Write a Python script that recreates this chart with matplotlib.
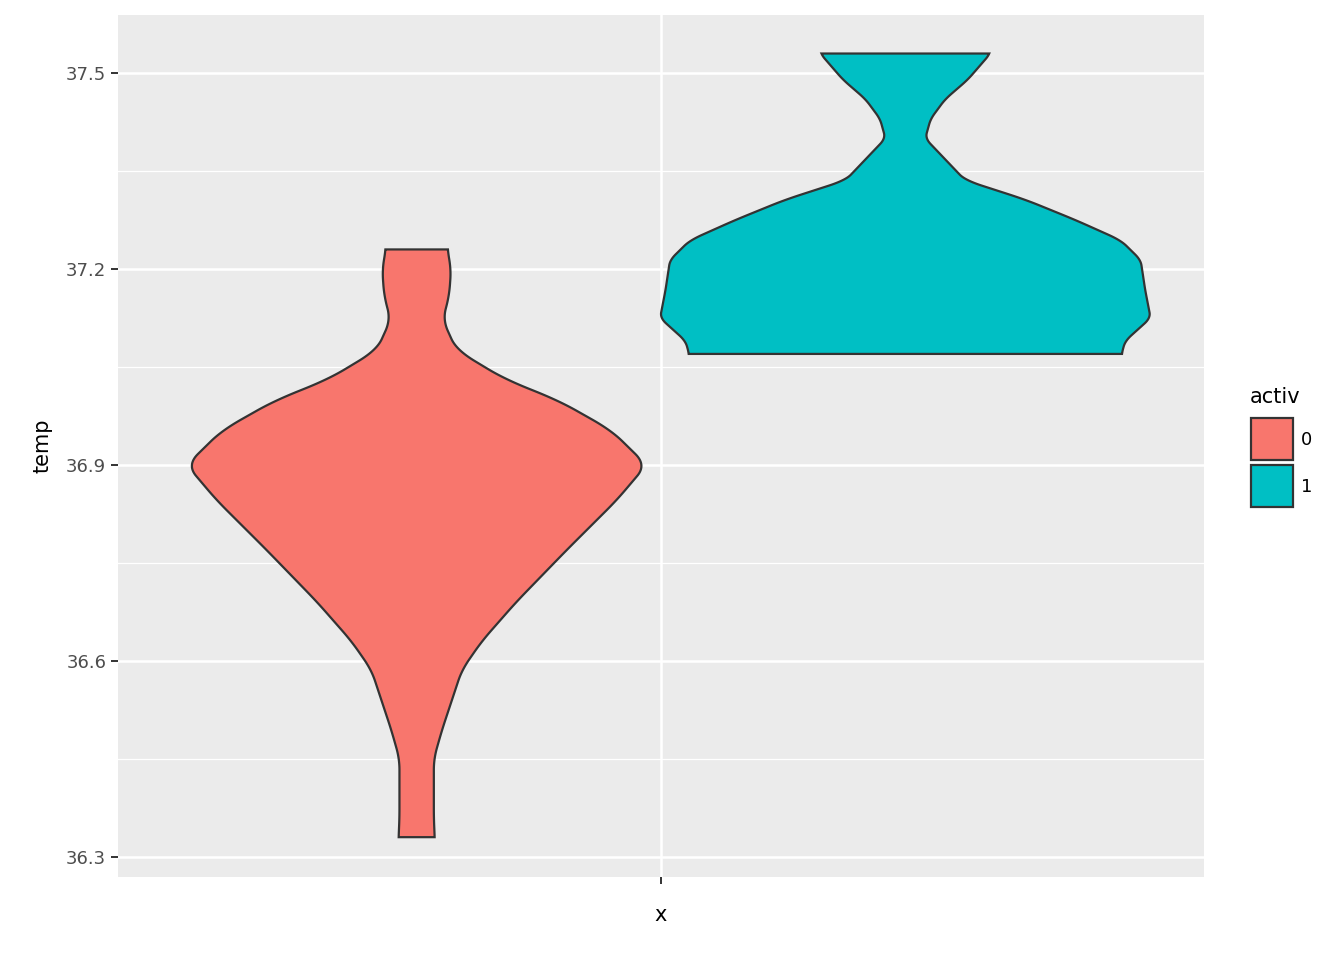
import numpy as np
import matplotlib
matplotlib.use("Agg")
import matplotlib.pyplot as plt
from matplotlib.patches import Rectangle

# violin outlines: temperature level -> half width (x units)
TEMP_0  = [36.33, 36.357, 36.40, 36.45, 36.494, 36.54, 36.586, 36.63, 36.69, 36.77,
           36.846, 36.90, 36.953, 37.00, 37.03, 37.076, 37.122, 37.16, 37.20, 37.23]
WIDTH_0 = [0.020, 0.019, 0.019, 0.019, 0.028, 0.039, 0.050, 0.072, 0.110, 0.166,
           0.221, 0.254, 0.215, 0.155, 0.099, 0.044, 0.029, 0.036, 0.038, 0.034]
TEMP_1  = [37.07, 37.09, 37.125, 37.168, 37.214, 37.244, 37.275, 37.306, 37.336,
           37.40, 37.43, 37.46, 37.49, 37.53]
WIDTH_1 = [0.239, 0.243, 0.271, 0.265, 0.260, 0.238, 0.188, 0.133, 0.066,
           0.022, 0.028, 0.044, 0.069, 0.094]
GROUPS  = ["0", "1"]
COLORS  = ["#F8766D", "#00BFC4"]
CENTERS = [-0.27, 0.27]

fig = plt.figure(figsize=(13.44, 9.6), dpi=100)
ax = fig.add_axes([118/1344, 83/960, 1086/1344, 862/960])
ax.set_facecolor("#EBEBEB")

def smooth(y, w, n=400):
    yy = np.linspace(y[0], y[-1], n)
    ww = np.interp(yy, y, w)
    k = np.ones(15) / 15
    pad = np.pad(ww, 7, mode="edge")
    return yy, np.convolve(pad, k, mode="valid")

for (t, w), c, x0 in zip([(TEMP_0, WIDTH_0), (TEMP_1, WIDTH_1)], COLORS, CENTERS):
    yy, ww = smooth(t, w)
    xs = np.concatenate([x0 - ww, (x0 + ww)[::-1]])
    ys = np.concatenate([yy, yy[::-1]])
    ax.fill(xs, ys, facecolor=c, edgecolor="#333333", lw=1.6, zorder=3)

ax.set_xlim(-0.6, 0.6)
ax.set_ylim(36.269, 37.589)
ax.set_yticks([36.3, 36.6, 36.9, 37.2, 37.5])
ax.set_yticks([36.45, 36.75, 37.05, 37.35], minor=True)
ax.set_xticks([0])
ax.set_xticklabels([""])
ax.grid(True, which="major", color="white", lw=1.8, zorder=0)
ax.grid(True, which="minor", axis="y", color="white", lw=0.9, zorder=0)
ax.set_axisbelow(True)
for s in ax.spines.values():
    s.set_visible(False)
ax.tick_params(axis="both", which="major", length=5, color="#333333", labelsize=13,
               labelcolor="#4D4D4D", width=1.4)
ax.tick_params(axis="y", which="minor", length=0)
ax.set_xlabel("x", fontsize=15, labelpad=12)
ax.set_ylabel("temp", fontsize=15, labelpad=10)

# legend
fig.text(1250/1344, 1 - 397/960, "activ", fontsize=15, va="center", ha="left")
for i, (g, c) in enumerate(zip(GROUPS, COLORS)):
    top = 418 + i * 47
    fig.patches.append(Rectangle((1251/1344, 1 - (top + 42)/960), 42/1344, 42/960,
                                 transform=fig.transFigure, facecolor=c,
                                 edgecolor="#333333", lw=1.6))
    fig.text(1301/1344, 1 - (top + 22)/960, g, fontsize=13, va="center", ha="left")

fig.savefig("out.png", dpi=100, facecolor="white")
